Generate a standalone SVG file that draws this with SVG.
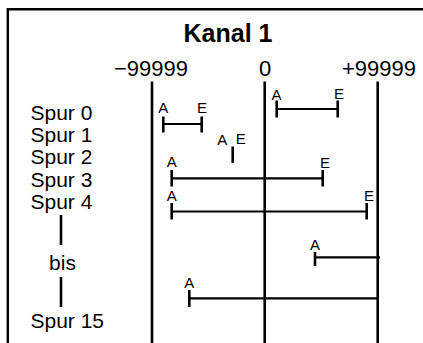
<svg xmlns="http://www.w3.org/2000/svg" width="423" height="343" viewBox="0 0 423 343">
<style>
.t{font-family:"Liberation Sans",Arial,sans-serif;fill:#000}
.lbl{font-size:21px}
.num{font-size:22px;text-anchor:middle}
.ae{font-size:15px;text-anchor:middle}
.ax{stroke:#000;stroke-width:2.6;fill:none}
.seg{stroke:#000;stroke-width:2.2;fill:none}
.tk{stroke:#000;stroke-width:2.6;fill:none}
</style>
<rect x="0" y="0" width="423" height="343" fill="#fff"/>
<path d="M7.8 345 V9.3 H425" fill="none" stroke="#000" stroke-width="2.4"/>
<text class="t" x="228" y="42" font-size="25" font-weight="bold" text-anchor="middle">Kanal 1</text>
<g id="axes">
<text class="t num" x="151" y="76">−99999</text>
<text class="t num" x="265" y="76">0</text>
<text class="t num" x="379" y="76">+99999</text>
<line class="ax" x1="152" y1="81.5" x2="152" y2="345"/>
<line class="ax" x1="264.7" y1="81.5" x2="264.7" y2="345"/>
<line class="ax" x1="377.7" y1="81.5" x2="377.7" y2="345"/>
</g>
<g id="labels">
<text class="t lbl" x="30.5" y="119.5">Spur 0</text>
<text class="t lbl" x="30.5" y="142">Spur 1</text>
<text class="t lbl" x="30.5" y="164">Spur 2</text>
<text class="t lbl" x="30.5" y="186.5">Spur 3</text>
<text class="t lbl" x="30.5" y="209">Spur 4</text>
<line class="tk" x1="61" y1="215" x2="61" y2="245"/>
<text class="t lbl" x="62.5" y="269.5" text-anchor="middle">bis</text>
<line class="tk" x1="61" y1="277" x2="61" y2="307"/>
<text class="t lbl" x="30.5" y="328">Spur 15</text>
</g>
<g id="connectors">
<g id="r0a">
<line class="seg" x1="163.3" y1="124" x2="201.7" y2="124"/>
<line class="tk" x1="163.3" y1="116.5" x2="163.3" y2="132.5"/>
<line class="tk" x1="201.7" y1="116.5" x2="201.7" y2="132.5"/>
<text class="t ae" x="163.3" y="112.5">A</text>
<text class="t ae" x="202" y="112.5">E</text>
</g>
<g id="r0b">
<line class="seg" x1="276.7" y1="109" x2="337.7" y2="109"/>
<line class="tk" x1="276.7" y1="100.5" x2="276.7" y2="117.5"/>
<line class="tk" x1="337.7" y1="100.5" x2="337.7" y2="117.5"/>
<text class="t ae" x="276.5" y="100">A</text>
<text class="t ae" x="339" y="99">E</text>
</g>
<g id="r2">
<line class="tk" x1="232.7" y1="146.5" x2="232.7" y2="163"/>
<text class="t ae" x="222.3" y="145">A</text>
<text class="t ae" x="240.7" y="144.3">E</text>
</g>
<g id="r3">
<line class="seg" x1="171.7" y1="178.3" x2="322.7" y2="178.3"/>
<line class="tk" x1="171.7" y1="170" x2="171.7" y2="186.5"/>
<line class="tk" x1="322.7" y1="170" x2="322.7" y2="186.5"/>
<text class="t ae" x="171.7" y="167.3">A</text>
<text class="t ae" x="325" y="168.3">E</text>
</g>
<g id="r4">
<line class="seg" x1="171.7" y1="211.5" x2="366.7" y2="211.5"/>
<line class="tk" x1="171.7" y1="203" x2="171.7" y2="219.5"/>
<line class="tk" x1="366.7" y1="203" x2="366.7" y2="219.5"/>
<text class="t ae" x="171.7" y="201">A</text>
<text class="t ae" x="369" y="200.7">E</text>
</g>
<g id="rbis">
<line class="seg" x1="315" y1="257.3" x2="380" y2="257.3"/>
<line class="tk" x1="315" y1="252" x2="315" y2="266"/>
<text class="t ae" x="315" y="250">A</text>
</g>
<g id="r15">
<line class="seg" x1="189.3" y1="298.3" x2="377.7" y2="298.3"/>
<line class="tk" x1="189.3" y1="290" x2="189.3" y2="307"/>
<text class="t ae" x="189.3" y="288.3">A</text>
</g>
</g>
</svg>
